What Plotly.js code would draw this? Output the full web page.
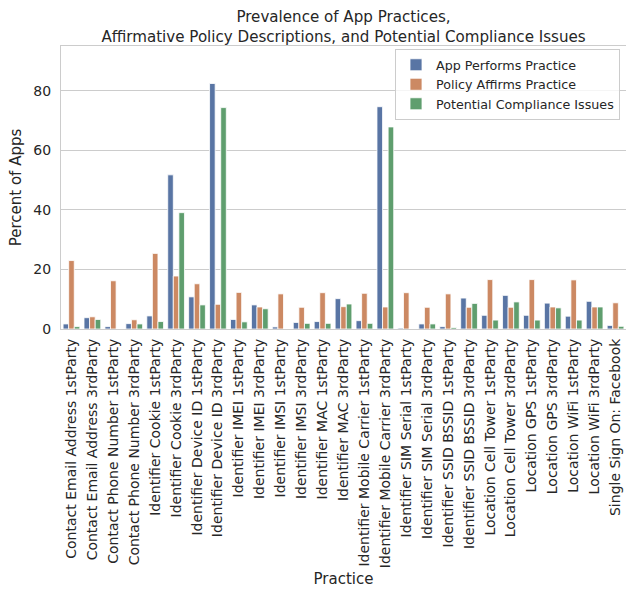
<!DOCTYPE html>
<html>
<head>
<meta charset="utf-8">
<script src="https://cdn.plot.ly/plotly-3.0.1.min.js"></script>
<style>html,body{margin:0;padding:0;background:#fff;}#chart{width:626px;height:591px;}</style>
</head>
<body>
<div id="chart"></div>
<script>
const categories = [
  "Contact Email Address 1stParty","Contact Email Address 3rdParty","Contact Phone Number 1stParty","Contact Phone Number 3rdParty",
  "Identifier Cookie 1stParty","Identifier Cookie 3rdParty","Identifier Device ID 1stParty","Identifier Device ID 3rdParty",
  "Identifier IMEI 1stParty","Identifier IMEI 3rdParty","Identifier IMSI 1stParty","Identifier IMSI 3rdParty",
  "Identifier MAC 1stParty","Identifier MAC 3rdParty","Identifier Mobile Carrier 1stParty","Identifier Mobile Carrier 3rdParty",
  "Identifier SIM Serial 1stParty","Identifier SIM Serial 3rdParty","Identifier SSID BSSID 1stParty","Identifier SSID BSSID 3rdParty",
  "Location Cell Tower 1stParty","Location Cell Tower 3rdParty","Location GPS 1stParty","Location GPS 3rdParty",
  "Location WiFi 1stParty","Location WiFi 3rdParty","Single Sign On: Facebook"
];
const appPerforms = [1.7,3.8,0.8,1.8,4.4,51.8,10.8,82.5,3.2,8.1,0.7,2.2,2.5,10.2,2.8,74.7,0.3,1.7,0.8,10.4,4.6,11.3,4.6,8.7,4.3,9.3,1.2];
const policyAffirms = [23.0,4.1,16.2,3.1,25.4,17.8,15.2,8.3,12.3,7.4,11.8,7.3,12.2,7.5,12.0,7.4,12.2,7.3,11.8,7.3,16.6,7.3,16.6,7.4,16.5,7.4,8.8];
const complianceIssues = [0.8,3.2,0.0,1.7,2.5,39.1,8.1,74.4,2.4,6.8,0.0,1.9,1.9,8.4,1.9,67.9,0.0,1.7,0.5,8.6,3.0,9.1,3.0,7.1,3.0,7.4,0.9];
const seriesNames = ["App Performs Practice","Policy Affirms Practice","Potential Compliance Issues"];
const yTicks = [0,20,40,60,80];

const colors = ["#5975A4","#CC8963","#5F9E6E"];
const seriesValues = [appPerforms, policyAffirms, complianceIssues];
const txt = "#262626";
const font = "DejaVu Sans, sans-serif";

const traces = seriesValues.map((vals, i) => ({
  type: "bar",
  name: seriesNames[i],
  x: categories,
  y: vals,
  marker: {color: colors[i], line: {color: "#ffffff", width: 0.8}},
  hoverinfo: "x+y+name"
}));

const layout = {
  width: 626, height: 591,
  margin: {l: 61, r: 0, t: 46, b: 262},
  paper_bgcolor: "#ffffff", plot_bgcolor: "#ffffff",
  font: {family: font, color: txt, size: 14},
  title: {
    text: "Prevalence of App Practices,<br>Affirmative Policy Descriptions, and Potential Compliance Issues",
    font: {family: font, size: 15.1, color: txt},
    x: 0.5, xanchor: "center", xref: "paper",
    y: 1 - 22/591, yanchor: "middle", yref: "container"
  },
  barmode: "group",
  bargap: 0.2,
  bargroupgap: 0,
  showlegend: true,
  legend: {
    x: (621-61)/566, xanchor: "right",
    y: 1 - 3/283, yanchor: "top",
    bgcolor: "rgba(255,255,255,0.8)",
    bordercolor: "#CCCCCC", borderwidth: 1,
    font: {family: font, size: 12.7, color: txt},
    tracegroupgap: 0,
    itemwidth: 30
  },
  xaxis: {
    type: "category",
    range: [-0.5, 26.5],
    tickangle: -90,
    tickfont: {family: font, size: 14, color: txt},
    ticks: "outside", ticklen: 3, tickcolor: "rgba(0,0,0,0)",
    showgrid: false,
    showline: true, linecolor: "#CCCCCC", linewidth: 1.2, mirror: true,
    title: {text: "Practice", font: {family: font, size: 15, color: txt}, standoff: 6},
    automargin: false
  },
  yaxis: {
    range: [0, 95.1],
    tickvals: yTicks,
    ticktext: yTicks.map(String),
    tickfont: {family: font, size: 14, color: txt},
    ticks: "outside", ticklen: 6, tickcolor: "rgba(0,0,0,0)",
    showgrid: true, gridcolor: "#CCCCCC", gridwidth: 1,
    zeroline: false,
    showline: true, linecolor: "#CCCCCC", linewidth: 1.2, mirror: true,
    title: {text: "Percent of Apps", font: {family: font, size: 15, color: txt}, standoff: 8},
    automargin: false
  }
};

Plotly.newPlot("chart", traces, layout, {displayModeBar: false, responsive: false});
</script>
</body>
</html>
